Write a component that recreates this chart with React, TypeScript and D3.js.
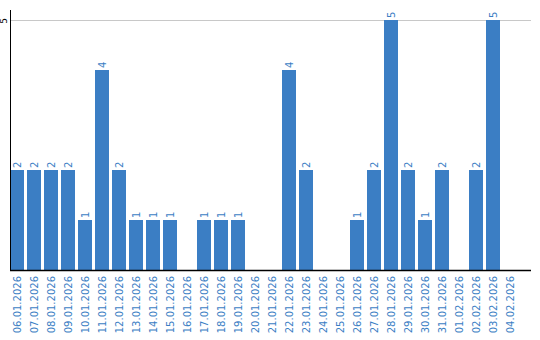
import React from "react";
import * as d3 from "d3";

const dates = [
  "06.01.2026","07.01.2026","08.01.2026","09.01.2026","10.01.2026","11.01.2026",
  "12.01.2026","13.01.2026","14.01.2026","15.01.2026","16.01.2026","17.01.2026",
  "18.01.2026","19.01.2026","20.01.2026","21.01.2026","22.01.2026","23.01.2026",
  "24.01.2026","25.01.2026","26.01.2026","27.01.2026","28.01.2026","29.01.2026",
  "30.01.2026","31.01.2026","01.02.2026","02.02.2026","03.02.2026","04.02.2026",
];
const values = [2,2,2,2,1,4,2,1,1,1,0,1,1,1,0,0,4,2,0,0,1,2,5,2,1,2,0,2,5,0];
const yTicks = [5];

const W = 540, H = 340;
const left = 10, bottom = 270, top = 20, right = 531;
const BLUE = "#3b7ec4";
const FONT = "DejaVu Sans, Verdana, sans-serif";

export default function App() {
  const x = d3.scaleBand<string>()
    .domain(dates)
    .range([left, left + dates.length * 17 - 3])
    .paddingInner(3 / 17)
    .paddingOuter(0);
  const y = d3.scaleLinear().domain([0, 5]).range([bottom, top]);

  return (
    <svg width={W} height={H} style={{ position: "absolute", left: 0, top: 0, background: "#fff" }}>
      {yTicks.map((t) => (
        <g key={t}>
          <line x1={left} x2={right} y1={y(t) + 0.5} y2={y(t) + 0.5} stroke="#c8c8c8" strokeWidth={1} />
          <text
            transform={`translate(${left - 3},${y(t) + 1}) rotate(-90)`}
            textAnchor="middle"
            fontFamily={FONT}
            fontSize={9}
            fill="#000"
          >
            {t}
          </text>
        </g>
      ))}
      {values.map((v, i) =>
        v > 0 ? (
          <rect
            key={dates[i]}
            x={x(dates[i])}
            y={y(v)}
            width={x.bandwidth()}
            height={y(0) - y(v)}
            fill={BLUE}
          />
        ) : null
      )}
      {values.map((v, i) =>
        v > 0 ? (
          <text
            key={"v" + dates[i]}
            transform={`translate(${(x(dates[i]) as number) + x.bandwidth() / 2 + 3.5},${y(v) - 2}) rotate(-90)`}
            textAnchor="start"
            fontFamily={FONT}
            fontSize={10}
            fill={BLUE}
          >
            {v}
          </text>
        ) : null
      )}
      <line x1={left + 0.5} x2={left + 0.5} y1={10} y2={bottom} stroke="#000" strokeWidth={1} />
      <line x1={left} x2={right} y1={bottom + 0.5} y2={bottom + 0.5} stroke="#000" strokeWidth={1.5} />
      {dates.map((d) => (
        <text
          key={"x" + d}
          transform={`translate(${(x(d) as number) + x.bandwidth() / 2 + 3.5},${bottom + 6}) rotate(-90)`}
          textAnchor="end"
          fontFamily={FONT}
          fontSize={10}
          fill={BLUE}
        >
          {d}
        </text>
      ))}
    </svg>
  );
}
